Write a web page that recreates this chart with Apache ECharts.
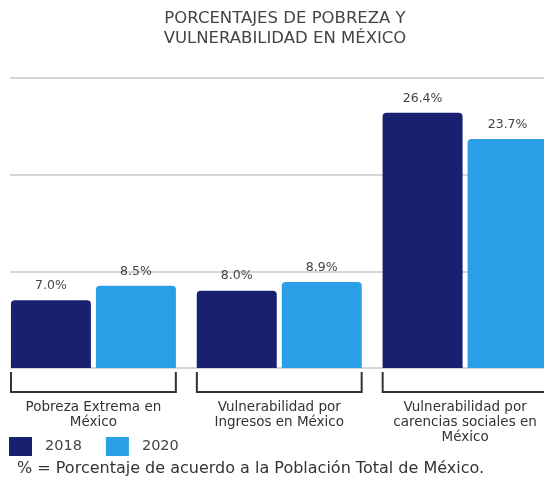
<!DOCTYPE html>
<html>
<head>
<meta charset="utf-8">
<script src="https://cdn.jsdelivr.net/npm/echarts@6/dist/echarts.min.js"></script>
<style>
  html, body { margin: 0; padding: 0; background: #fff; overflow: hidden; }
  /* the reference cuts the last group at the right edge, so the canvas is wider than the window */
  #chart { width: 558px; height: 479px; }
</style>
</head>
<body>
<div id="chart"></div>
<script>
// datos
const categories = [
  'Pobreza Extrema en\nMéxico',
  'Vulnerabilidad por\nIngresos en México',
  'Vulnerabilidad por\ncarencias sociales en\nMéxico'
]
const years = ['2018', '2020']
const values2018 = [7.0, 8.0, 26.4]
const values2020 = [8.5, 8.9, 23.7]
const yTicks = [0, 10, 20, 30]

const navy = '#19206f'
const sky = '#2b9fe6'
const font = 'DejaVu Sans'

const chart = echarts.init(document.getElementById('chart'))

const valueLabel = {
  show: true, position: 'top', distance: 8,
  formatter: p => p.value.toFixed(1) + '%',
  color: '#444', fontSize: 12.5, fontFamily: font
}

chart.setOption({
  animation: false,
  title: [
    {
      text: 'PORCENTAJES DE POBREZA Y\nVULNERABILIDAD EN MÉXICO',
      left: 280, top: 4, textAlign: 'center',
      textStyle: { fontFamily: font, fontSize: 16.5, fontWeight: 'normal', color: '#444', lineHeight: 20 }
    },
    {
      text: '% = Porcentaje de acuerdo a la Población Total de México.',
      left: 12, top: 456,
      textStyle: { fontFamily: font, fontSize: 16, fontWeight: 'normal', color: '#333' }
    }
  ],
  legend: {
    data: years, left: 9, top: 437, padding: 0, icon: 'rect',
    itemWidth: 23, itemHeight: 19, itemGap: 24,
    textStyle: { fontFamily: font, fontSize: 14.5, color: '#444', padding: [0, 0, 0, 8] }
  },
  grid: [
    { left: 10, right: 14, top: 78, bottom: 111 },
    { left: 0.5, right: 0, top: 78, bottom: 111 }
  ],
  xAxis: [
    { gridIndex: 0, type: 'category', data: categories, show: false },
    {
      gridIndex: 1, type: 'category', data: categories,
      axisLine: { show: false }, axisTick: { show: false },
      axisLabel: { interval: 0, margin: 32, fontFamily: font, fontSize: 13.5, color: '#333', lineHeight: 15 }
    }
  ],
  yAxis: [
    {
      gridIndex: 0, type: 'value', min: yTicks[0], max: yTicks[yTicks.length - 1], interval: 10,
      axisLabel: { show: false }, axisLine: { show: false }, axisTick: { show: false },
      splitLine: { lineStyle: { color: '#c8c8c8', width: 1.5 } }
    },
    {
      gridIndex: 1, type: 'value', min: yTicks[0], max: yTicks[yTicks.length - 1], interval: 10,
      show: false, splitLine: { show: false }
    }
  ],
  series: [
    {
      name: years[0], type: 'bar', xAxisIndex: 1, yAxisIndex: 1,
      data: values2018, barWidth: 80, barGap: '6.25%',
      itemStyle: { color: navy, borderRadius: [4, 4, 0, 0] },
      label: valueLabel
    },
    {
      name: years[1], type: 'bar', xAxisIndex: 1, yAxisIndex: 1,
      data: values2020, barWidth: 80, barGap: '6.25%',
      itemStyle: { color: sky, borderRadius: [4, 4, 0, 0] },
      label: valueLabel
    },
    {
      // corchetes bajo cada grupo
      type: 'custom', xAxisIndex: 1, yAxisIndex: 1, clip: false, silent: true,
      data: categories.map((c, i) => [i, 0]),
      renderItem: (params, api) => {
        const p = api.coord([api.value(0), 0])
        const bw = api.size([1, 0])[0]
        const hw = bw * (1 - 0.113) / 2
        return {
          type: 'polyline',
          shape: { points: [[p[0] - hw, p[1] + 4], [p[0] - hw, p[1] + 24], [p[0] + hw, p[1] + 24], [p[0] + hw, p[1] + 4]] },
          style: { stroke: '#333', lineWidth: 2, fill: null }
        }
      }
    }
  ]
})
window.addEventListener('resize', () => chart.resize())
</script>
</body>
</html>
